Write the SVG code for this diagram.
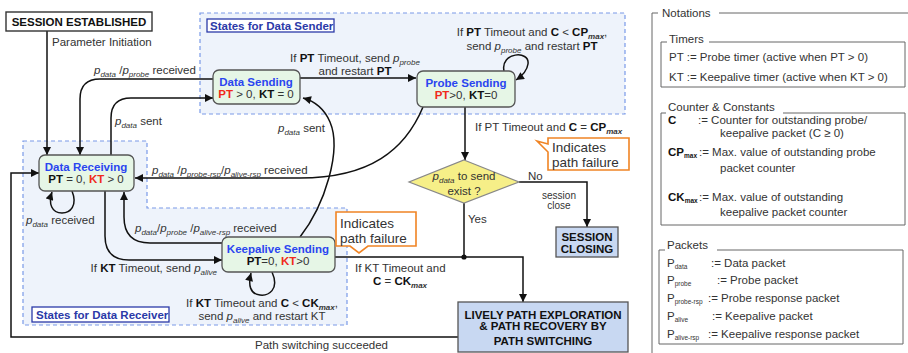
<svg xmlns="http://www.w3.org/2000/svg" width="908" height="353" viewBox="0 0 908 353">
<defs>
<marker id="ah" viewBox="0 0 10 10" refX="10" refY="5" markerUnits="userSpaceOnUse" markerWidth="9" markerHeight="8" orient="auto"><path d="M0,0 L10,5 L0,10 z" fill="#111"/></marker>
</defs>
<style>
text{font-family:"Liberation Sans",Arial,sans-serif;font-size:11.5px;fill:#333}
.b{font-weight:bold}
.it{font-style:italic}
.s{font-size:8px}
.ns{font-size:6.5px}
.ttl{font-weight:bold;fill:#2a45f0}
.red{fill:#f02a1a;font-weight:bold}
.blk{fill:#111}
.node{fill:#e6f6e6;stroke:#555;stroke-width:1.3}
.blue{fill:#c8d8f2;stroke:#555;stroke-width:1.3}
.reg{fill:#eef3fb;stroke:#7a9ae8;stroke-width:1.2;stroke-dasharray:4,3}
.rlbl{fill:#fff;stroke:#2b3aa8;stroke-width:1.3}
.rtxt{font-weight:bold;fill:#2b3aa8;font-size:11.5px}
.c{fill:none;stroke:#111;stroke-width:1.5}
.ca{fill:none;stroke:#111;stroke-width:1.5;marker-end:url(#ah)}
.call{fill:#fff;stroke:#f08424;stroke-width:1.6}
.ct{font-size:13.5px;fill:#333}
.nl{fill:none;stroke:#666;stroke-width:1}
</style>

<g id="regions">
<rect class="reg" x="200" y="13" width="425" height="101"/>
<polygon class="reg" points="23,141 147,141 147,208 347,208 347,325 23,325"/>
<g id="sender-label"><rect class="rlbl" x="207" y="19" width="127" height="13"/><text class="rtxt" x="210" y="30">States for Data Sender</text></g>
<g id="receiver-label"><rect class="rlbl" x="32" y="307" width="137" height="15"/><text class="rtxt" x="36" y="319">States for Data Receiver</text></g>
</g>

<g id="connectors">
<path class="ca" d="M47,31 V155"/>
<path class="ca" d="M213,79 H100 Q80,79 80,99 V155"/>
<path class="ca" d="M111,155 V118 Q111,98 131,98 H213"/>
<path class="ca" d="M300,78 H416"/>
<path class="ca" d="M504,71 C500,52 530,50 528,64 C527,71 522,76 516,80"/>
<path class="ca" d="M423,107 C405,150 370,178 300,178 H135"/>
<path class="ca" d="M300,237 C325,205 342,150 330,122 C324,108 314,101 303,98"/>
<path class="ca" d="M222,243 H150 Q124,243 124,217 V192"/>
<path class="ca" d="M105,191 V236 Q105,260 129,260 H222"/>
<path class="ca" d="M72,191 C78,206 70,213 62,213 C52,213 48,204 52,192"/>
<path class="ca" d="M272,272 C280,290 268,296 260,295 C250,294 248,285 251,273"/>
<path class="ca" d="M465,107 V160"/>
<path class="ca" d="M519,182 H587 V227"/>
<path class="c" d="M464,203 V257"/>
<path class="ca" d="M335,257 H523 V302"/>
<path class="ca" d="M458,337 H11 V173 H39"/>
<circle cx="464" cy="257" r="2.6" fill="#111"/>

<text x="52" y="46">Parameter Initiation</text>
<text x="94" y="74"><tspan class="it">p</tspan><tspan class="it s" dy="3">data</tspan><tspan dy="-3"> /</tspan><tspan class="it">p</tspan><tspan class="it s" dy="3">probe</tspan><tspan dy="-3"> received</tspan></text>
<text x="115" y="125"><tspan class="it">p</tspan><tspan class="it s" dy="3">data</tspan><tspan dy="-3"> sent</tspan></text>
<text x="355" y="62" text-anchor="middle">If <tspan class="b blk">PT</tspan> Timeout, send <tspan class="it">p</tspan><tspan class="it s" dy="3">probe</tspan></text>
<text x="355" y="75" text-anchor="middle">and restart <tspan class="b blk">PT</tspan></text>
<text x="532" y="36" text-anchor="middle">If <tspan class="b blk">PT</tspan> Timeout and <tspan class="b blk">C</tspan> &lt; <tspan class="b blk">CP</tspan><tspan class="it b s" dy="2.5">max</tspan><tspan dy="-2.5">,</tspan></text>
<text x="532" y="50" text-anchor="middle">send <tspan class="it">p</tspan><tspan class="it s" dy="3">probe</tspan><tspan dy="-3"> and restart </tspan><tspan class="b blk">PT</tspan></text>
<text x="152" y="174"><tspan class="it">p</tspan><tspan class="it s" dy="3">data</tspan><tspan dy="-3"> /</tspan><tspan class="it">p</tspan><tspan class="it s" dy="3">probe-rsp</tspan><tspan dy="-3">/</tspan><tspan class="it">p</tspan><tspan class="it s" dy="3">alive-rsp</tspan><tspan dy="-3"> received</tspan></text>
<text x="278" y="132"><tspan class="it">p</tspan><tspan class="it s" dy="3">data</tspan><tspan dy="-3"> sent</tspan></text>
<text x="135" y="232"><tspan class="it">p</tspan><tspan class="it s" dy="3">data</tspan><tspan dy="-3">/</tspan><tspan class="it">p</tspan><tspan class="it s" dy="3">probe</tspan><tspan dy="-3"> /</tspan><tspan class="it">p</tspan><tspan class="it s" dy="3">alive-rsp</tspan><tspan dy="-3"> received</tspan></text>
<text x="217" y="272" text-anchor="end">If <tspan class="b blk">KT</tspan> Timeout, send <tspan class="it">p</tspan><tspan class="it s" dy="3">alive</tspan></text>
<text x="26" y="224"><tspan class="it">p</tspan><tspan class="it s" dy="3">data</tspan><tspan dy="-3"> received</tspan></text>
<text x="262" y="307" text-anchor="middle">If <tspan class="b blk">KT</tspan> Timeout and <tspan class="b blk">C</tspan> &lt; <tspan class="b blk">CK</tspan><tspan class="it b s" dy="3">max</tspan><tspan dy="-3">,</tspan></text>
<text x="262" y="320" text-anchor="middle">send <tspan class="it">p</tspan><tspan class="it s" dy="3">alive</tspan><tspan dy="-3"> and restart KT</tspan></text>
<text x="475" y="131">If PT Timeout and <tspan class="b blk">C</tspan> = <tspan class="b blk">CP</tspan><tspan class="it b s" dy="3">max</tspan></text>
<text x="528" y="180">No</text>
<text x="559" y="199" text-anchor="middle" style="font-size:10px">session</text>
<text x="559" y="209" text-anchor="middle" style="font-size:10px">close</text>
<text x="468" y="223">Yes</text>
<text x="355" y="272">If KT Timeout and</text>
<text x="400" y="285" text-anchor="middle"><tspan class="b blk">C</tspan> = <tspan class="b blk">CK</tspan><tspan class="it b s" dy="3">max</tspan></text>
<text x="255" y="349">Path switching succeeded</text>
</g>

<g id="session-established">
<rect x="6" y="12" width="146" height="19" fill="#fff" stroke="#333" stroke-width="1.4"/>
<text class="b blk" x="79" y="26" text-anchor="middle">SESSION ESTABLISHED</text>
</g>

<g id="data-receiving">
<rect class="node" x="39" y="155" width="95" height="36" rx="6"/>
<text class="ttl" x="86" y="171" text-anchor="middle">Data Receiving</text>
<text x="86" y="183" text-anchor="middle"><tspan class="b blk">PT</tspan> = 0, <tspan class="red">KT</tspan> &gt; 0</text>
</g>

<g id="data-sending">
<rect class="node" x="213" y="70" width="87" height="34" rx="6"/>
<text class="ttl" x="256" y="86" text-anchor="middle">Data Sending</text>
<text x="256" y="98" text-anchor="middle"><tspan class="red">PT</tspan> &gt; 0, <tspan class="b blk">KT</tspan> = 0</text>
</g>

<g id="probe-sending">
<rect class="node" x="417" y="71" width="98" height="36" rx="6"/>
<text class="ttl" x="466" y="87" text-anchor="middle">Probe Sending</text>
<text x="466" y="99" text-anchor="middle"><tspan class="red">PT</tspan>&gt;0, <tspan class="b blk">KT</tspan>=0</text>
</g>

<g id="keepalive-sending">
<rect class="node" x="222" y="237" width="113" height="35" rx="6"/>
<text class="ttl" x="278" y="253" text-anchor="middle">Keepalive Sending</text>
<text x="278" y="265" text-anchor="middle"><tspan class="b blk">PT</tspan>=0, <tspan class="red">KT</tspan>&gt;0</text>
</g>

<g id="decision">
<polygon points="464,160 519,182 464,203 409,182" fill="#f6ef88" stroke="#888" stroke-width="1.2"/>
<text x="464" y="180" text-anchor="middle"><tspan class="it">p</tspan><tspan class="it s" dy="2.5">data</tspan><tspan dy="-2.5"> to send</tspan></text>
<text x="464" y="195" text-anchor="middle">exist ?</text>
</g>

<g id="session-closing">
<rect class="blue" x="556" y="227" width="62" height="30"/>
<text class="b blk" x="587" y="241" text-anchor="middle">SESSION</text>
<text class="b blk" x="587" y="253" text-anchor="middle">CLOSING</text>
</g>

<g id="lively">
<rect class="blue" x="458" y="302" width="170" height="50"/>
<text class="b blk" x="543" y="319" text-anchor="middle">LIVELY PATH EXPLORATION</text>
<text class="b blk" x="543" y="330" text-anchor="middle">&amp; PATH RECOVERY BY</text>
<text class="b blk" x="543" y="345" text-anchor="middle">PATH SWITCHING</text>
</g>

<g id="callout-probe">
<polygon class="call" points="548,138 629,138 629,170 548,170 548,152 537,141 548,144"/>
<text class="ct" x="552" y="152">Indicates</text>
<text class="ct" x="552" y="167">path failure</text>
</g>

<g id="callout-keepalive">
<polygon class="call" points="336,212 416,212 416,246 368,246 359,253 350,246 336,246"/>
<text class="ct" x="340" y="228">Indicates</text>
<text class="ct" x="340" y="243">path failure</text>
</g>

<g id="notations">
<path class="nl" d="M658,13 H652 V353 M719,13 H908"/>
<text x="662" y="17">Notations</text>
<path class="nl" d="M667,42 H661 V87 H905 V42 H709"/>
<text x="669" y="43">Timers</text>
<text x="669" y="61">PT := Probe timer (active when PT &gt; 0)</text>
<text x="669" y="81">KT := Keepalive timer (active when KT &gt; 0)</text>
<path class="nl" d="M666,113 H661 V225 H905 V113 H783"/>
<text x="668" y="111">Counter &amp; Constants</text>
<text class="b blk" x="668" y="124">C</text>
<text x="698" y="124">:= Counter for outstanding probe/</text>
<text x="720" y="137">keepalive packet (C ≥ 0)</text>
<text x="668" y="156"><tspan class="b blk">CP</tspan><tspan class="b blk ns" dy="2">max</tspan></text>
<text x="699" y="156">:= Max. value of outstanding probe</text>
<text x="720" y="172">packet counter</text>
<text x="668" y="201"><tspan class="b blk">CK</tspan><tspan class="b blk ns" dy="2">max</tspan></text>
<text x="699" y="201">:= Max. value of outstanding</text>
<text x="720" y="216">keepalive packet counter</text>
<path class="nl" d="M665,250 H659 V344 H903 V250 H717"/>
<text x="667" y="249">Packets</text>
<text x="667" y="267">P<tspan class="ns" dy="2">data</tspan></text>
<text x="711" y="267">:= Data packet</text>
<text x="667" y="284">P<tspan class="ns" dy="2">probe</tspan></text>
<text x="717" y="284">:= Probe packet</text>
<text x="667" y="302">P<tspan class="ns" dy="2">probe-rsp</tspan></text>
<text x="708" y="302">:= Probe response packet</text>
<text x="667" y="320">P<tspan class="ns" dy="2">alive</tspan></text>
<text x="712" y="320">:= Keepalive packet</text>
<text x="667" y="338">P<tspan class="ns" dy="2">alive-rsp</tspan></text>
<text x="708" y="338">:= Keepalive response packet</text>
</g>
</svg>
